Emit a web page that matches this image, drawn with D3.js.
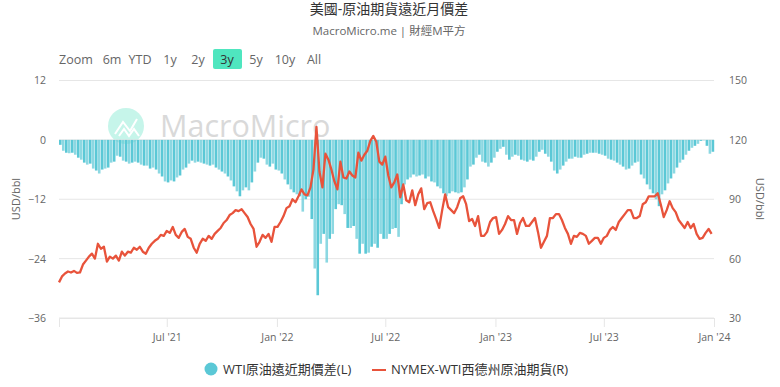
<!DOCTYPE html>
<html>
<head>
<meta charset="utf-8">
<script src="https://cdn.jsdelivr.net/npm/d3@7"></script>
<style>
  html, body { margin: 0; background: #fff; }
  text { font-family: "Open Sans", "Noto Sans CJK TC", sans-serif; }
</style>
</head>
<body>
<svg id="chart" width="780" height="387"></svg>
<script>
const stepDays = 5;
const startDate = Date.UTC(2021, 0, 2);
const endDate = Date.UTC(2024, 0, 1);

const leftTicks = [12, 0, -12, -24, -36];
const rightTicks = [150, 120, 90, 60, 30];
const timeTicks = [[2021, 6, "Jul '21"], [2022, 0, "Jan '22"], [2022, 6, "Jul '22"], [2023, 0, "Jan '23"], [2023, 6, "Jul '23"], [2024, 0, "Jan '24"]];
const rangeButtons = ["6m", "YTD", "1y", "2y", "3y", "5y", "10y", "All"];

// WTI far-near spread, one reading every 5 days
const spread = [
  -1.0,-2.2,-2.6,-2.7,-2.6,-3.0,-3.6,-4.0,-4.6,-5.0,-4.8,-5.8,-6.2,-6.8,-6.0,-5.8,-5.6,-4.6,-4.4,-3.2,
  -3.4,-4.2,-4.4,-4.8,-4.6,-4.4,-4.6,-5.0,-5.2,-5.2,-5.8,-5.6,-6.0,-6.8,-7.4,-8.4,-8.6,-8.2,-8.4,-7.6,
  -7.2,-6.0,-5.6,-4.8,-4.2,-4.6,-4.4,-4.6,-4.8,-5.0,-5.2,-5.0,-5.6,-6.0,-6.4,-6.8,-7.4,-8.2,-9.4,-10.4,
  -11.4,-10.2,-9.6,-10.2,-8.6,-6.4,-4.6,-3.6,-3.8,-5.0,-5.4,-4.8,-6.0,-6.2,-6.8,-8.0,-9.0,-10.0,-10.6,-11.0,
  -11.4,-14.5,-12.0,-11.5,-16.0,-26.0,-31.4,-21.0,-19.0,-24.8,-20.0,-19.0,-14.0,-13.0,-13.2,-15.0,-17.8,-17.8,-17.4,-20.0,
  -23.0,-21.0,-23.0,-22.8,-21.6,-21.0,-21.8,-19.0,-20.0,-20.0,-19.0,-18.0,-17.8,-19.6,-13.0,-9.0,-8.0,-7.6,-7.0,-7.4,
  -7.2,-7.0,-7.8,-7.4,-8.4,-8.6,-9.4,-9.8,-10.8,-11.4,-10.8,-10.4,-10.6,-10.8,-10.6,-9.6,-8.0,-5.4,-5.0,-3.6,
  -3.0,-4.4,-4.6,-5.4,-4.6,-3.6,-2.4,-1.8,-1.4,-3.0,-4.0,-3.4,-3.0,-3.2,-4.0,-4.2,-4.4,-4.0,-4.2,-3.4,
  -2.4,-2.0,-2.8,-3.4,-4.4,-6.2,-6.8,-6.0,-5.2,-4.4,-3.8,-3.8,-3.4,-3.6,-3.6,-3.0,-2.8,-2.6,-2.6,-2.6,
  -2.8,-3.0,-3.2,-3.8,-4.0,-4.2,-4.6,-5.0,-5.4,-6.0,-5.8,-5.2,-4.6,-4.4,-7.0,-7.8,-9.0,-10.0,-10.8,-12.0,
  -13.4,-11.0,-10.2,-8.8,-7.8,-6.8,-5.6,-4.6,-4.0,-3.0,-2.2,-1.6,-1.2,-0.8,-0.2,-0.1,-1.2,-2.8,-2.4
];

// NYMEX WTI front contract, same dates
const price = [
  48,51,52.5,53.5,53,53.8,52.8,53,57,59,61,62.5,60,67.5,65,66,58.5,61,60,61.5,
  59,63.5,61.5,63.5,63,65.5,64.5,66,63.5,62.5,65.5,67.5,69,70,72,71.5,74,73,76,72,
  70.5,73.5,75,71,70,65.5,63,67.5,70,69,71.5,70,72.5,74,75.5,78,79.5,82,83,84.5,
  84,85,83,81,77.5,75,66,68.5,72,70.5,72.5,68.5,76,76,78.5,81.5,85.5,86.5,90,88.5,
  91.5,95,92.5,92,96,105,126.5,104,96,113,110,105,99,95,109,101,100.5,104,102,101,
  113.5,109.5,112.5,114.5,119.5,122,119,109,107.5,111.5,102,96,98.5,102.5,91,97.5,89.5,88.5,94.5,87,
  92.5,95.5,85,88,88.5,84,80,75.5,84.5,92.5,86,84.5,83,86,90.5,91.5,87.5,79,80,76.5,
  81.5,71.5,71.5,73.5,78.5,80.5,81,72.5,74.5,77.5,81.5,79.5,79.5,72.5,78,80.5,76.5,76.5,78.5,80.5,
  73.5,65.5,68.5,71.5,80.5,80.5,82.5,82.5,79.5,75.5,72.5,67.5,71.5,71,73,72.5,71.5,67.5,69,70.5,
  70.5,67.5,70.5,71.5,74.5,76,74.5,78.5,80.5,82.5,84.5,84.5,80.5,80.5,81.5,87.5,88.5,91.5,91.5,91.5,
  93,87.5,81,84.5,89,85.5,83.5,79.5,77.5,75.5,78.5,75.5,77.5,72.5,70,70.5,73,75,72.5
];

const dates = spread.map((_, i) => new Date(startDate + i * stepDays * 864e5));

const svg = d3.select("#chart");
const x = d3.scaleUtc().domain([startDate, endDate]).range([59, 714]);
const yLeft = d3.scaleLinear().domain([-36, 12]).range([318, 80.5]);
const yRight = d3.scaleLinear().domain([30, 150]).range([318, 80.5]);

// Title block
svg.append("text").attr("x", 389).attr("y", 14).attr("text-anchor", "middle")
    .attr("font-size", 14).attr("fill", "#333").text("美國-原油期貨遠近月價差");
svg.append("text").attr("x", 389).attr("y", 35).attr("text-anchor", "middle")
    .attr("font-size", 11.5).attr("fill", "#666").text("MacroMicro.me | 財經M平方");

// Watermark
const mark = svg.append("g");
mark.append("circle").attr("cx", 126).attr("cy", 126).attr("r", 18).attr("fill", "#c6f5ea");
mark.append("path").attr("d", "M115 134 L123 122 L130 131 L137 119").attr("fill", "none")
    .attr("stroke", "#fff").attr("stroke-width", 2);
mark.append("path").attr("d", "M119 136 L124 129 L129 136 L134 129 L139 136").attr("fill", "none")
    .attr("stroke", "#fff").attr("stroke-width", 2);
mark.append("text").attr("x", 160).attr("y", 137).attr("font-size", 30.5)
    .attr("fill", "#d9d9d9").text("MacroMicro");

// Range selector
svg.append("text").attr("x", 59).attr("y", 64).attr("font-size", 12.5).attr("fill", "#666").text("Zoom");
const buttonX = [112, 140, 170, 198, 227, 256, 285, 314];
svg.append("rect").attr("x", 213).attr("y", 49).attr("width", 29).attr("height", 20).attr("rx", 2).attr("fill", "#4fe6bf");
svg.selectAll(".range").data(rangeButtons).join("text")
    .attr("class", "range")
    .attr("x", (d, i) => buttonX[i]).attr("y", 64).attr("text-anchor", "middle")
    .attr("font-size", 12.5).attr("fill", d => d === "3y" ? "#333" : "#666").text(d => d);

// Grid
svg.selectAll(".grid").data(leftTicks).join("line")
    .attr("class", "grid")
    .attr("x1", 59).attr("x2", 714)
    .attr("y1", d => yLeft(d)).attr("y2", d => yLeft(d))
    .attr("stroke", "#e6e6e6").attr("stroke-width", 1);

// Bars, starting at the date so the first one stays inside the plot
svg.selectAll(".bar").data(spread).join("rect")
    .attr("class", "bar")
    .attr("x", (d, i) => x(dates[i]))
    .attr("y", yLeft(0))
    .attr("width", 2.6)
    .attr("height", d => yLeft(d) - yLeft(0))
    .attr("fill", "#5bc8d6")
    .attr("opacity", (d, i) => i % 2 ? 0.7 : 1);

// Line
const line = d3.line().x((d, i) => x(dates[i])).y(d => yRight(d));
svg.append("path").datum(price).attr("d", line).attr("fill", "none")
    .attr("stroke", "#e8533b").attr("stroke-width", 2.3).attr("stroke-linejoin", "round");

// Axes
const styleAxis = g => {
  g.select(".domain").remove();
  g.selectAll(".tick line").remove();
  g.selectAll("text").attr("fill", "#666").attr("font-size", 10.5)
      .attr("font-family", '"Open Sans", sans-serif');
};
svg.append("g").attr("transform", "translate(46,0)")
    .call(d3.axisLeft(yLeft).tickValues(leftTicks).tickSize(0).tickPadding(0))
    .call(styleAxis);
svg.append("g").attr("transform", "translate(729,0)")
    .call(d3.axisRight(yRight).tickValues(rightTicks).tickSize(0).tickPadding(0))
    .call(styleAxis);

const tickDates = timeTicks.map(d => Date.UTC(d[0], d[1], 1));
svg.append("g").attr("transform", "translate(0,318)")
    .call(d3.axisBottom(x).tickValues(tickDates).tickSize(9).tickPadding(7)
      .tickFormat((d, i) => timeTicks[i][2]))
    .call(g => {
      g.select(".domain").attr("stroke", "#e6e6e6");
      g.selectAll(".tick line").attr("stroke", "#e6e6e6");
      g.selectAll("text").attr("fill", "#666").attr("font-size", 10.5)
          .attr("font-family", '"Open Sans", sans-serif');
    });

// Axis titles
svg.append("text").attr("transform", "translate(20,199) rotate(-90)").attr("text-anchor", "middle")
    .attr("font-size", 11).attr("fill", "#666").text("USD/bbl");
svg.append("text").attr("transform", "translate(756,199) rotate(90)").attr("text-anchor", "middle")
    .attr("font-size", 11).attr("fill", "#666").text("USD/bbl");

// Legend
svg.append("circle").attr("cx", 211).attr("cy", 369).attr("r", 6.5).attr("fill", "#5bc8d6");
svg.append("text").attr("x", 223).attr("y", 374).attr("font-size", 13).attr("fill", "#333").text("WTI原油遠近期價差(L)");
svg.append("line").attr("x1", 372).attr("x2", 386).attr("y1", 370).attr("y2", 370)
    .attr("stroke", "#e8533b").attr("stroke-width", 2);
svg.append("text").attr("x", 391).attr("y", 374).attr("font-size", 13).attr("fill", "#333").text("NYMEX-WTI西德州原油期貨(R)");
</script>
</body>
</html>
